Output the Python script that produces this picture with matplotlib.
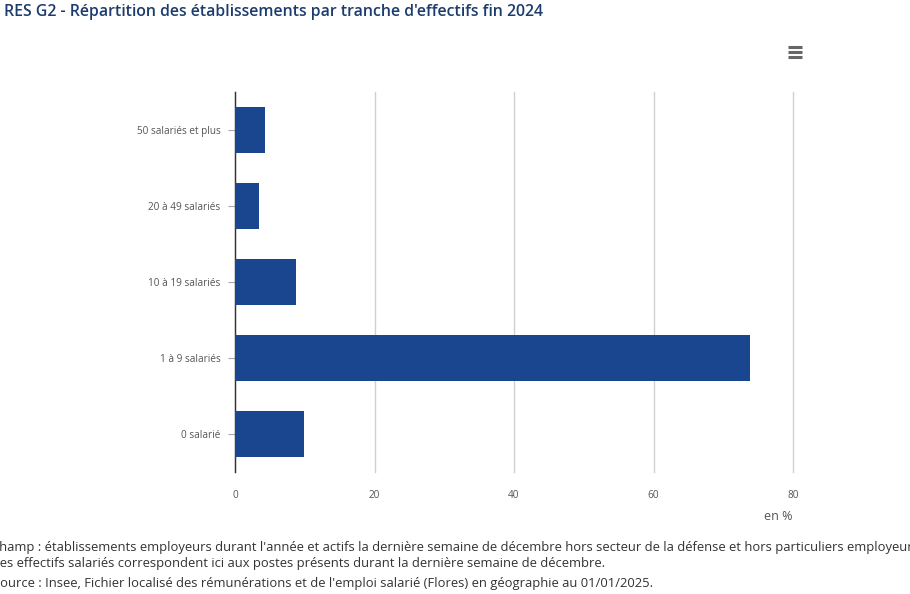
import matplotlib.pyplot as plt
from matplotlib.lines import Line2D

plt.rcParams['font.family'] = ['Open Sans', 'DejaVu Sans']

# Data
categories = ["0 salarié", "1 à 9 salariés", "10 à 19 salariés", "20 à 49 salariés", "50 salariés et plus"]
values = [9.9, 73.9, 8.7, 3.4, 4.3]
x_ticks = [0, 20, 40, 60, 80]

title = "RES G2 - Répartition des établissements par tranche d'effectifs fin 2024"
notes = [
    "Champ : établissements employeurs durant l'année et actifs la dernière semaine de décembre hors secteur de la défense et hors particuliers employeurs.",
    "Les effectifs salariés correspondent ici aux postes présents durant la dernière semaine de décembre.",
    "Source : Insee, Fichier localisé des rémunérations et de l'emploi salarié (Flores) en géographie au 01/01/2025.",
]

W, H = 910, 594
fig = plt.figure(figsize=(W / 100, H / 100), dpi=100)
ax = fig.add_axes([235 / W, 1 - 472 / H, (793 - 235) / W, (472 - 92) / H])

ax.barh(range(len(categories)), values, height=0.6, color="#1a4690", zorder=3)

ax.set_xlim(0, 80)
ax.set_ylim(-0.5, len(categories) - 0.5)
ax.set_xticks(x_ticks)
ax.set_xticklabels([str(t) for t in x_ticks])
ax.set_yticks(range(len(categories)))
ax.set_yticklabels(categories)

ax.grid(axis="x", color="#d0d0d0", linewidth=1, zorder=0)
for line in ax.get_xgridlines():
    line.set_clip_on(False)
for s in ["top", "right", "bottom"]:
    ax.spines[s].set_visible(False)
ax.spines["left"].set_color("#333333")
ax.spines["left"].set_linewidth(1)

ax.tick_params(axis="y", length=5, color="#aaaaaa", labelsize=7.2, labelcolor="#555555", pad=5.5)
ax.tick_params(axis="x", length=0, labelsize=7.2, labelcolor="#555555", pad=13)

fig.text(778 / W, 1 - 516 / H, "en %", fontsize=9, color="#555555", ha="center", va="center")

# Title
fig.text(4 / W, 1 - 12 / H, title, fontsize=11.45, fontweight="semibold", color="#1d3c6e", ha="left", va="center")

# Menu icon
for yy in [47, 52, 57]:
    fig.add_artist(Line2D([788 / W, 802 / W], [1 - yy / H, 1 - yy / H], color="#666666", linewidth=2.2,
                          solid_capstyle="butt"))

# Footer notes (first letters cut off at the left edge as in the source)
fig.text(-9 / W, 1 - 548 / H, notes[0], fontsize=9.4, color="#333333", ha="left", va="center")
fig.text(-7 / W, 1 - 563 / H, notes[1], fontsize=9.4, color="#333333", ha="left", va="center")
fig.text(-7 / W, 1 - 583 / H, notes[2], fontsize=9.4, color="#333333", ha="left", va="center")

fig.savefig("out.png", dpi=100, facecolor="white")
